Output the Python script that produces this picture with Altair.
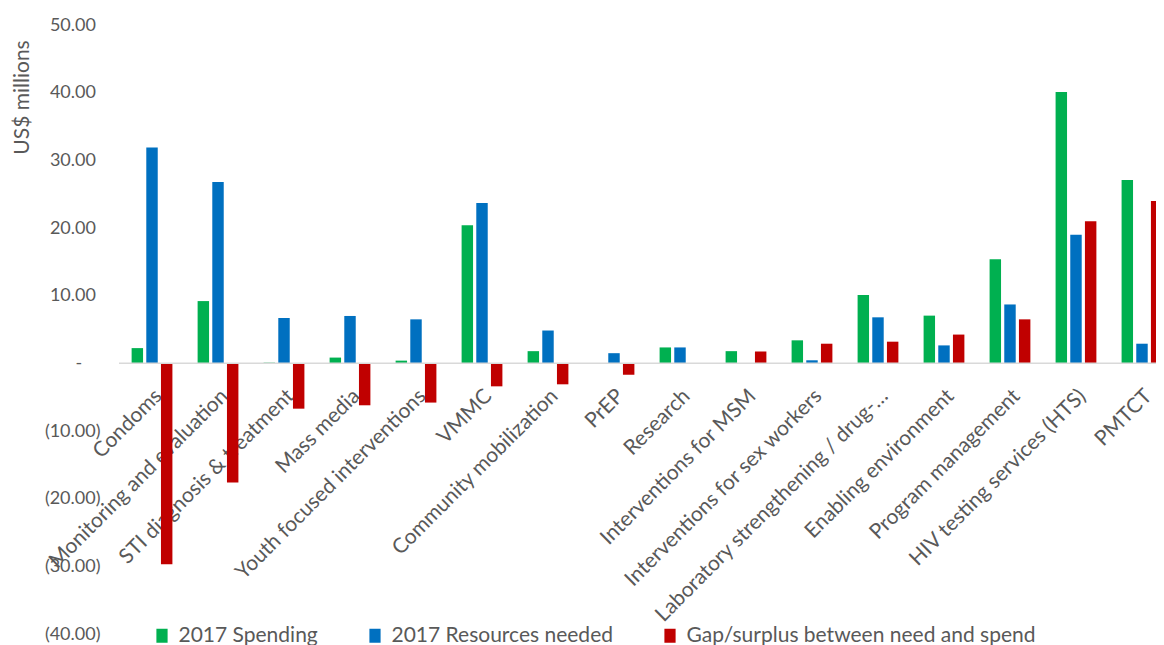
import altair as alt
import pandas as pd

categories = ["Condoms", "Monitoring and evaluation", "STI diagnosis & treatment", "Mass media",
              "Youth focused interventions", "VMMC", "Community mobilization", "PrEP", "Research",
              "Interventions for MSM", "Interventions for sex workers",
              "Laboratory strengthening / drug-\u2026", "Enabling environment",
              "Program management", "HIV testing services (HTS)", "PMTCT"]
series = ["2017 Spending", "2017 Resources needed", "Gap/surplus between need and spend"]
colors = ["#00B050", "#0070C0", "#C00000"]

spending = [2.25, 9.2, 0.1, 0.85, 0.4, 20.4, 1.8, 0.0, 2.35, 1.8, 3.4, 10.1, 7.05, 15.4, 40.1, 27.1]
needed = [31.9, 26.8, 6.7, 7.0, 6.5, 23.7, 4.85, 1.5, 2.35, 0.05, 0.45, 6.8, 2.65, 8.7, 19.0, 2.9]
gap = [-29.7, -17.6, -6.7, -6.2, -5.8, -3.4, -3.1, -1.7, -0.1, 1.75, 2.9, 3.2, 4.25, 6.5, 21.0, 24.0]
y_ticks = [-40, -30, -20, -10, 0, 10, 20, 30, 40, 50]

rows = []
for name, vals in zip(series, [spending, needed, gap]):
    for c, v in zip(categories, vals):
        rows.append({"category": c, "series": name, "value": v})
df = pd.DataFrame(rows)
labels_df = pd.DataFrame({"category": categories, "base": [0] * len(categories)})
zero_df = pd.DataFrame({"zero": [0]})

GREY = "#595959"
FONT = "Lato"

x_scale = alt.Scale(paddingInner=0.333, paddingOuter=0.1667)
y_scale = alt.Scale(domain=[-40, 50], nice=False, zero=True)

label_expr = ("datum.value == 0 ? '-\u00a0\u00a0\u00a0\u00a0\u2060' : datum.value < 0 ? "
              "'(' + format(-datum.value, '.2f') + ')' : "
              "format(datum.value, '.2f') + '\u00a0\u2060'")

texts = alt.Chart(labels_df).mark_text(
    angle=315, align="right", baseline="top", dx=-16.3, dy=14.9,
    font=FONT, fontSize=21, color=GREY
).encode(
    x=alt.X("category:N", sort=categories, scale=x_scale, axis=None),
    y=alt.Y("base:Q", scale=y_scale),
    text="category:N",
)

bars = alt.Chart(df).mark_bar().encode(
    x=alt.X("category:N", sort=categories, scale=x_scale, axis=None),
    xOffset=alt.XOffset("series:N", sort=series,
                        scale=alt.Scale(paddingInner=0.22, paddingOuter=0.11)),
    y=alt.Y("value:Q", scale=y_scale,
            axis=alt.Axis(values=y_ticks, labelExpr=label_expr, grid=False, domain=False,
                          ticks=False, tickSize=0, labelPadding=19,
                          labelFont=FONT,
                          labelFontSize=18, labelColor=GREY, title="US$ millions",
                          titleFont=FONT, titleFontSize=21, titleFontWeight="normal",
                          titleColor=GREY, titleAngle=270, titleX=-97, titleY=72,
                          titleAlign="center", titleBaseline="middle")),
    color=alt.Color("series:N", sort=series,
                    scale=alt.Scale(domain=series, range=colors),
                    legend=alt.Legend(orient="none", legendX=32.5, legendY=600,
                                      direction="horizontal", title=None,
                                      symbolType="M-0.8,-1L0.8,-1L0.8,1L-0.8,1Z",
                                      symbolSize=196,
                                      symbolStrokeWidth=0, labelFont=FONT, labelFontSize=21,
                                      labelColor=GREY, labelOffset=6, columnPadding=46,
                                      labelLimit=600, padding=0)),
)

zero_line = alt.Chart(zero_df).mark_rule(color="#D9D9D9", strokeWidth=1.5).encode(
    y=alt.Y("zero:Q", scale=y_scale)
)

chart = alt.layer(texts, bars, zero_line).properties(
    width=1056, height=609,
    autosize=alt.AutoSizeParams(type="none"),
    padding={"left": 111, "top": 17, "right": -19, "bottom": 11},
    background="white",
).configure_view(stroke=None)

chart.save("out.html", embed_options={"renderer": "svg", "actions": False})
